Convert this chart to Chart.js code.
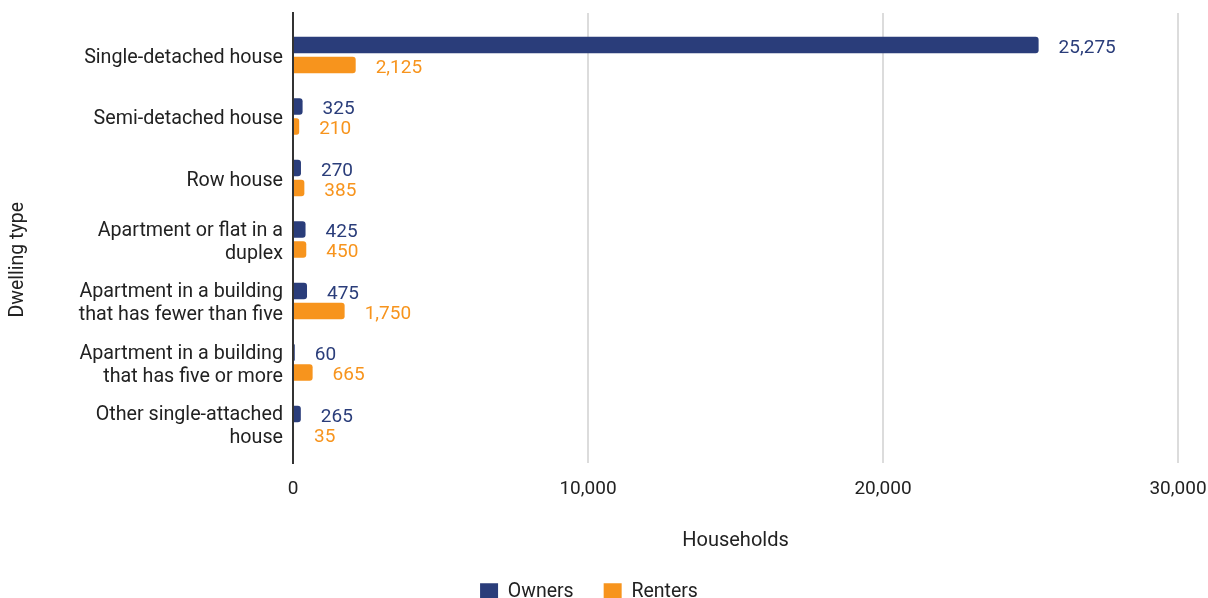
<!DOCTYPE html>
<html>
<head>
<meta charset="utf-8">
<script src="https://cdn.jsdelivr.net/npm/chart.js@4/dist/chart.umd.min.js"></script>
<style>
  html, body { margin: 0; padding: 0; background: #fff; overflow: hidden; }
  #wrap { position: relative; width: 1208px; height: 612px; }
</style>
</head>
<body>
<div id="wrap"><canvas id="chart"></canvas></div>
<script>
// Dwelling types (multi-line labels are arrays)
const dwellingTypes = [
  "Single-detached house",
  "Semi-detached house",
  "Row house",
  ["Apartment or flat in a", "duplex"],
  ["Apartment in a building", "that has fewer than five"],
  ["Apartment in a building", "that has five or more"],
  ["Other single-attached", "house"]
];
const owners  = [25275, 325, 270, 425, 475, 60, 265];
const renters = [2125, 210, 385, 450, 1750, 665, 35];
const seriesNames = ["Owners", "Renters"];
const xTicks = [0, 10000, 20000, 30000];

const NAVY = "#2a3d7a";
const ORANGE = "#f7941d";
const FONT = "Roboto, 'Liberation Sans', sans-serif";

const fmt = v => Number(v).toLocaleString("en-US");

// Writes each bar's value just past the end of the bar
const valueLabels = {
  id: "valueLabels",
  afterDatasetsDraw(chart) {
    const ctx = chart.ctx;
    ctx.save();
    ctx.font = "19px " + FONT;
    ctx.textAlign = "left";
    ctx.textBaseline = "middle";
    chart.data.datasets.forEach((ds, di) => {
      const meta = chart.getDatasetMeta(di);
      ctx.fillStyle = ds.labelColor;
      meta.data.forEach((bar, i) => {
        ctx.fillText(fmt(ds.data[i].x), bar.x + 20, bar.y + 3);
      });
    });
    ctx.restore();
  }
};

const toPoints = arr => arr.map((v, i) => ({ x: v, y: i }));

new Chart(document.getElementById("chart"), {
  type: "bar",
  data: {
    datasets: [
      {
        label: seriesNames[0],
        data: toPoints(owners),
        backgroundColor: NAVY,
        labelColor: NAVY,
        borderRadius: 3,
        categoryPercentage: 0.65,
        barPercentage: 0.82
      },
      {
        label: seriesNames[1],
        data: toPoints(renters),
        backgroundColor: ORANGE,
        labelColor: ORANGE,
        borderRadius: 3,
        categoryPercentage: 0.65,
        barPercentage: 0.82
      }
    ]
  },
  options: {
    indexAxis: "y",
    responsive: true,
    maintainAspectRatio: false,
    animation: false,
    layout: { padding: { top: 13, right: 30, left: 0, bottom: 0 } },
    scales: {
      x: {
        type: "linear",
        min: 0,
        max: 30000,
        afterBuildTicks: s => { s.ticks = xTicks.map(v => ({ value: v })); },
        afterFit: s => { s.height = 89.5; s.paddingLeft = 0; s.paddingRight = 0; },
        grid: { color: "#dcdcdc", lineWidth: 2, drawTicks: false },
        border: { display: false },
        ticks: {
          padding: 15,
          color: "#222",
          font: { family: FONT, size: 19 },
          callback: v => fmt(v)
        },
        title: {
          display: true,
          text: "Households",
          color: "#222",
          font: { family: FONT, size: 20 },
          padding: { top: 20, bottom: 0 }
        }
      },
      y: {
        type: "linear",
        reverse: true,
        offset: false,
        min: -0.683,
        max: 6.634,
        afterBuildTicks: s => { s.ticks = dwellingTypes.map((_, i) => ({ value: i })); },
        afterFit: s => { s.width = 293; s.paddingTop = 0; s.paddingBottom = 0; },
        grid: { display: false, drawTicks: false },
        border: { display: true, color: "#333", width: 2 },
        ticks: {
          padding: 10,
          labelOffset: 3,
          color: "#222",
          font: { family: FONT, size: 19.7, lineHeight: 1.17 },
          callback: v => dwellingTypes[v]
        },
        title: {
          display: true,
          text: "Dwelling type         ",
          color: "#222",
          font: { family: FONT, size: 19.5 },
          padding: { top: 6, bottom: 4 }
        }
      }
    },
    plugins: {
      legend: {
        position: "bottom",
        labels: {
          color: "#222",
          font: { family: FONT, size: 19.5 },
          boxWidth: 18,
          boxHeight: 18,
          padding: 30
        }
      },
      tooltip: { enabled: false }
    }
  },
  plugins: [valueLabels]
});
</script>
</body>
</html>
